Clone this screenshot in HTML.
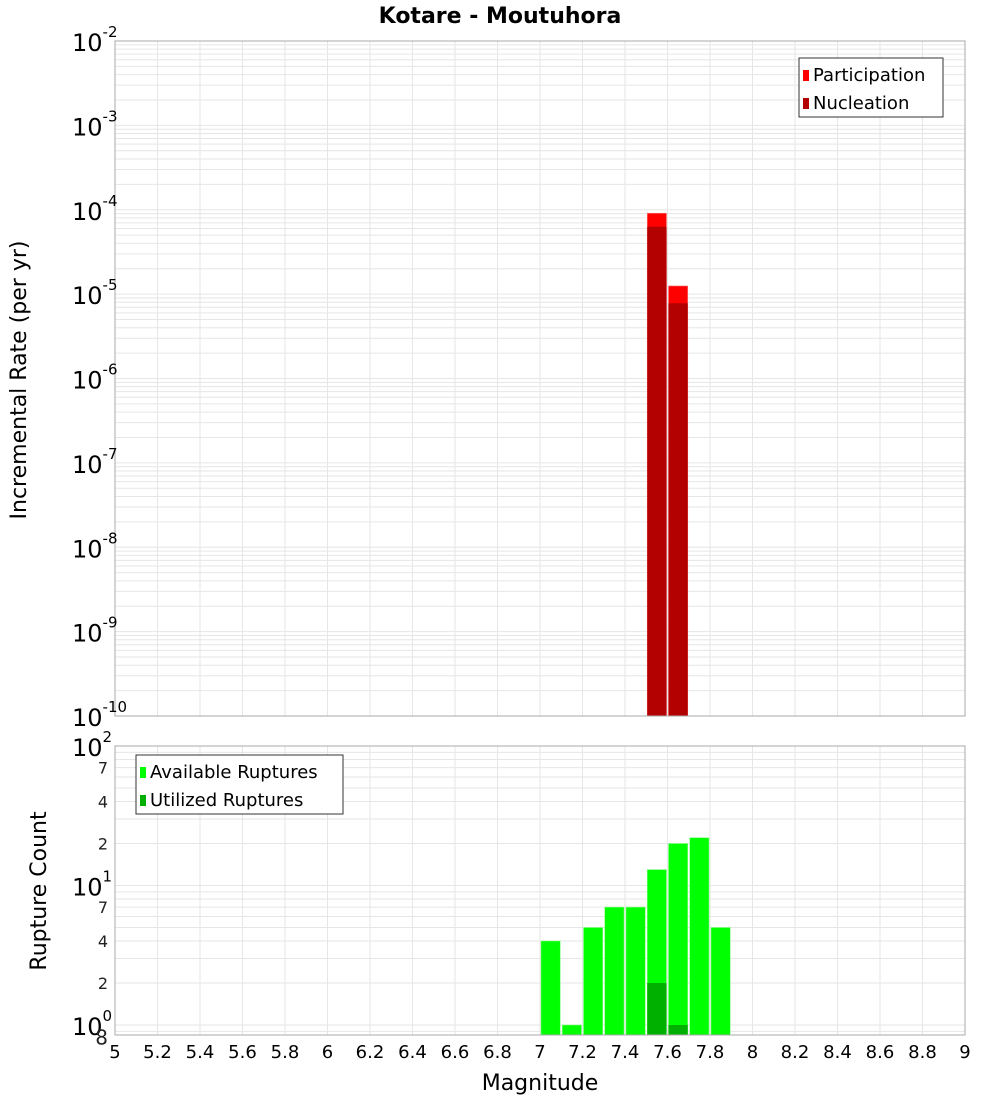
<!DOCTYPE html>
<html><head><meta charset="utf-8"><style>
body{margin:0;background:#fff;font-family:"Liberation Sans","DejaVu Sans",sans-serif}
svg text{font-family:"DejaVu Sans","Liberation Sans",sans-serif}
</style></head><body>
<svg id="c" width="1000" height="1100" xmlns="http://www.w3.org/2000/svg"></svg>
<script>
const magBins=[7.55,7.65];
const participation=[9.1e-5,1.25e-5];
const nucleation=[6.3e-5,7.8e-6];
const cntBins=[7.05,7.15,7.25,7.35,7.45,7.55,7.65,7.75,7.85];
const available=[4,1,5,7,7,13,20,22,5];
const utilizedBins=[7.55,7.65];
const utilized=[2,1];
const xTicks=[5,5.2,5.4,5.6,5.8,6,6.2,6.4,6.6,6.8,7,7.2,7.4,7.6,7.8,8,8.2,8.4,8.6,8.8,9];
const topExps=[-2,-3,-4,-5,-6,-7,-8,-9,-10];

const NS="http://www.w3.org/2000/svg";
const svg=document.getElementById('c');
function el(t,a,p){const e=document.createElementNS(NS,t);for(const k in a)e.setAttribute(k,a[k]);(p||svg).appendChild(e);return e;}
const X0=115,X1=965;
const xs=v=>X0+(v-5)/4*(X1-X0);
const T0=41,T1=716;
const ysTop=v=>T0+(-2-Math.log10(v))/8*(T1-T0);
const B0=746,DEC=139.5,B1=1035;
const ysBot=v=>B0+(2-Math.log10(v))*DEC;

// title
let t=el('text',{x:500,y:23,'text-anchor':'middle','font-size':22,'font-weight':'bold'});
t.textContent='Kotare - Moutuhora';

// top grid
let g=el('g',{});

for(let e=-10;e<-2;e++)for(let m=1;m<10;m++){const y=ysTop(m*Math.pow(10,e));el('line',{x1:X0,x2:X1,y1:y,y2:y,stroke:'#e6e6e6','stroke-width':1},g);}
xTicks.forEach(v=>el('line',{x1:xs(v),x2:xs(v),y1:T0,y2:T1,stroke:'#e6e6e6'},g));
// bottom grid
let g2=el('g',{});

for(let e=-1;e<2;e++)for(let m=1;m<10;m++){const y=ysBot(m*Math.pow(10,e));if(y>=B0&&y<=B1)el('line',{x1:X0,x2:X1,y1:y,y2:y,stroke:'#e6e6e6'},g2);}
xTicks.forEach(v=>el('line',{x1:xs(v),x2:xs(v),y1:B0,y2:B1,stroke:'#e6e6e6'},g2));

// top bars
const bw=(X1-X0)/40;
magBins.forEach((m,i)=>{
 let r=el('rect',{x:xs(m)-bw/2+1,y:ysTop(participation[i]),width:bw-2,height:T1-ysTop(participation[i]),fill:'#ff0000',stroke:'#ff8080','stroke-width':0.6});
 
 let r2=el('rect',{x:xs(m)-bw/2+1,y:ysTop(nucleation[i]),width:bw-2,height:T1-ysTop(nucleation[i]),fill:'#b30000'});
 
});
// bottom bars
cntBins.forEach((m,i)=>{
 let r=el('rect',{x:xs(m)-bw/2+1,y:ysBot(available[i]),width:bw-2,height:B1-ysBot(available[i]),fill:'#00ff00',stroke:'#80ff80','stroke-width':0.6});
 
});
utilizedBins.forEach((m,i)=>{
 let r=el('rect',{x:xs(m)-bw/2+1,y:ysBot(utilized[i]),width:bw-2,height:B1-ysBot(utilized[i]),fill:'#00b000'});
 
});

// frames
let f1=el('rect',{x:X0,y:T0,width:X1-X0,height:T1-T0,fill:'none',stroke:'#aaa'});

let f2=el('rect',{x:X0,y:B0,width:X1-X0,height:B1-B0,fill:'none',stroke:'#aaa'});


// top y labels
topExps.forEach(e=>{
 const y=ysTop(Math.pow(10,e));
 let tx=el('text',{x:72,y:y+10,'font-size':24});
 
 tx.textContent='10';
 let s=el('tspan',{dy:-14,'font-size':15},tx);s.textContent=String(e);
});
// bottom y labels
const botMain=[[100,'2'],[10,'1'],[1,'0']];
botMain.forEach(([v,e])=>{
 const y=ysBot(v);
 let tx=el('text',{x:72,y:y+10,'font-size':24});
 
 tx.textContent='10';
 let s=el('tspan',{dy:-14,'font-size':15},tx);s.textContent=e;
});
[[70,'7'],[40,'4'],[20,'2'],[7,'7'],[4,'4'],[2,'2'],[0.8,'8']].forEach(([v,l])=>{
 const y=ysBot(v);
 let tx=el('text',{x:108,y:y+6,'text-anchor':'end','font-size':v==0.8?20:16,fill:'#222'});
 
 tx.textContent=l;
});
// x labels
xTicks.forEach(v=>{
 let tx=el('text',{x:xs(v),y:1058,'text-anchor':'middle','font-size':18});
 
 tx.textContent=String(v);
});
let xt=el('text',{x:540,y:1090,'text-anchor':'middle','font-size':22});
xt.textContent='Magnitude';
let yt=el('text',{x:0,y:0,'text-anchor':'middle','font-size':22,transform:'translate(26,380) rotate(-90)'});
yt.textContent='Incremental Rate (per yr)';
let yt2=el('text',{x:0,y:0,'text-anchor':'middle','font-size':22,transform:'translate(46,891) rotate(-90)'});
yt2.textContent='Rupture Count';

// legends
function legend(x,y,w,items,name){
 let lg=el('g',{});
 
 el('rect',{x:x,y:y,width:w,height:59,fill:'#fff',stroke:'#333'},lg);
 items.forEach(([c,l],i)=>{
  el('rect',{x:x+4,y:y+12+i*28,width:6,height:11,fill:c},lg);
  let tx=el('text',{x:x+14,y:y+23+i*28,'font-size':18},lg);tx.textContent=l;
 });
}
legend(799,58,144,[['#ff0000','Participation'],['#b30000','Nucleation']],'top-legend');
legend(136,755,207,[['#00ff00','Available Ruptures'],['#00b000','Utilized Ruptures']],'bottom-legend');
</script>
</body></html>
